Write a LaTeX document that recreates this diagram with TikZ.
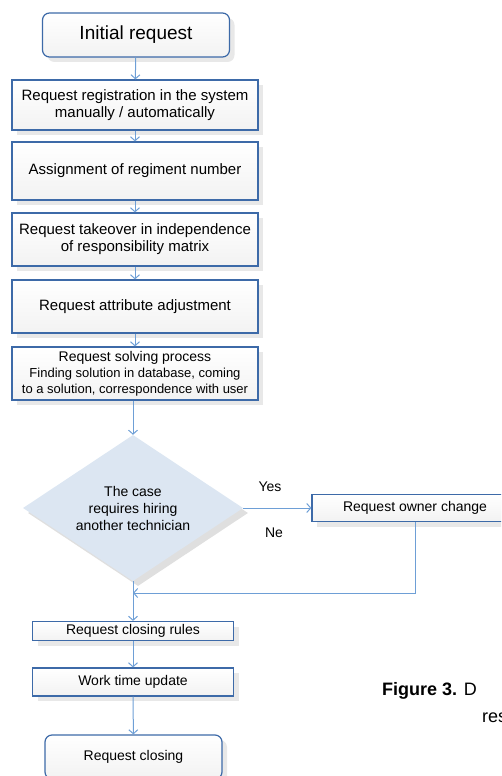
\documentclass[tikz,border=0pt]{standalone}
\usepackage{fontspec}
\setmainfont{Liberation Sans}
\usepackage{tikz}
\usetikzlibrary{calc,arrows,arrows.meta,positioning,shapes.geometric,shadows}
\definecolor{boxline}{HTML}{3D6AA8}
\definecolor{flowline}{HTML}{6E9FD6}
\definecolor{casefill}{HTML}{DCE6F2}

\begin{document}
\begin{tikzpicture}[x=1pt,y=-1pt,
  box/.style={draw=boxline,line width=1.2pt,top color=white,bottom color=gray!10,
    drop shadow={opacity=0.18,shadow xshift=5pt,shadow yshift=-5pt},
    align=center,inner sep=2pt,font=\fontsize{14}{16}\selectfont},
  endbox/.style={box,rounded corners=7pt},
  casebox/.style={diamond,aspect=1.5,fill=casefill,inner sep=0pt,
    minimum width=220pt,minimum height=146pt,align=center,
    drop shadow={opacity=0.25,shadow xshift=5pt,shadow yshift=-5pt},
    font=\fontsize{14}{17}\selectfont},
  flow/.style={draw=flowline,line width=1pt,-{Straight Barb[length=4pt,width=9pt]}},
  lbl/.style={font=\fontsize{14}{16}\selectfont}]
\useasboundingbox (0,0) rectangle (501,776);
\clip (0,0) rectangle (501,776);

% main column
\node[endbox,minimum width=187pt,minimum height=44pt,font=\fontsize{19}{22}\selectfont] (init) at (136,35) {Initial request};
\node[box,minimum width=246pt,minimum height=50pt,font=\fontsize{15}{17}\selectfont] (reg) at (135,105) {Request registration in the system\\manually / automatically};
\node[box,minimum width=246pt,minimum height=58pt,font=\fontsize{15}{17}\selectfont] (assign) at (135,171) {Assignment of regiment number};
\node[box,minimum width=246pt,minimum height=53pt,font=\fontsize{15}{17}\selectfont] (take) at (135,239.5) {Request takeover in independence\\of responsibility matrix};
\node[box,minimum width=246pt,minimum height=53pt,font=\fontsize{15}{17}\selectfont] (attr) at (135,306.5) {Request attribute adjustment};
\node[box,minimum width=246pt,minimum height=53pt] (solve) at (135,373.5) {Request solving process\\{\fontsize{13}{15}\selectfont Finding solution in database, coming}\\{\fontsize{13}{15}\selectfont to a solution, correspondence with user}};

% decision
\node[casebox] (case) at (133,508) {The case\\requires hiring\\another technician};
\node[box,minimum width=206pt,minimum height=27pt] (owner) at (415,508) {Request owner change};
\node[lbl] (yes) at (270,487) {Yes};
\node[lbl] (no) at (274,533) {Ne};
\coordinate (merge) at (133,593);

% closing part
\node[box,minimum width=201pt,minimum height=19pt,inner sep=1pt] (rules) at (133,631) {Request closing rules};
\node[box,minimum width=201pt,minimum height=28pt] (update) at (133,682) {Work time update};
\node[endbox,minimum width=177pt,minimum height=44pt] (close) at (133.5,757) {Request closing};

% caption
\node[anchor=base west,inner sep=0pt,font=\fontsize{18}{20}\selectfont] (cap) at (382,695) {\textbf{Figure 3.} D};
\node[anchor=base west,inner sep=0pt,font=\fontsize{18}{20}\selectfont] (capb) at (482,722) {res};

% connectors
\draw[flow] (init) -- (reg);
\draw[flow] (reg) -- (assign);
\draw[flow] (assign) -- (take);
\draw[flow] (take) -- (attr);
\draw[flow] (attr) -- (solve);
\draw[flow] (solve.south -| case.north) -- (case.north);
\draw[flow] (case.east) -- (owner.west);
\draw[flow] (owner.south) |- (merge);
\draw[flow] (case.south) -- (rules.north -| case.south);
\draw[flow] (rules.south -| update.north) -- (update.north);
\draw[flow] (update) -- (close);
\end{tikzpicture}
\end{document}
